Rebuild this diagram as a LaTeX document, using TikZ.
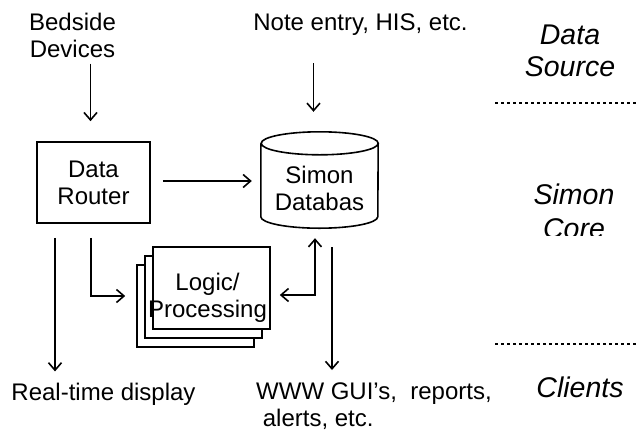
\documentclass[tikz,border=0pt]{standalone}
\usepackage{fontspec}
\setmainfont{Liberation Sans}
\usetikzlibrary{arrows.meta,calc}

\tikzset{
  txt/.style={inner sep=0pt, align=center, font=\fontsize{24}{27}\selectfont},
  layer/.style={inner sep=0pt, align=center, font=\fontsize{28.5}{32}\selectfont\itshape},
  box/.style={draw, line width=1.6pt, fill=white, inner sep=0pt},
  tip/.style={Straight Barb[length=7.5pt,width=13pt,line width=1.6pt]},
  arr/.style={line width=1.6pt, -{Straight Barb[length=7.5pt,width=13pt,line width=1.6pt]}},
  biarr/.style={line width=1.6pt, {Straight Barb[length=7.5pt,width=13pt,line width=1.6pt]}-{Straight Barb[length=7.5pt,width=13pt,line width=1.6pt]}},
  sep/.style={line width=2.6pt, dash pattern=on 2.6pt off 3.4pt},
}

\begin{document}
\begin{tikzpicture}[x=1pt, y=-1pt]
\useasboundingbox (0,0) rectangle (637,437);

% data sources
\node[txt, anchor=north] (bedside) at (72.5,12.5) {Bedside\\Devices};
\node[txt, anchor=base] (note) at (360.5,30) {Note entry, HIS, etc.};

% data router
\node[box, txt, minimum width=113pt, minimum height=81pt] (router) at (93.5,182.5) {Data\\Router};

% Simon database cylinder
\node[minimum width=117pt, minimum height=96pt, inner sep=0pt] (db) at (319.5,180) {};
\draw[line width=1.6pt, fill=white]
  ($(db.north west)+(0,11.5)$) -- ($(db.south west)+(0,-11.5)$)
  arc[start angle=180, end angle=360, x radius=58.5pt, y radius=11.5pt]
  -- ($(db.north east)+(0,11.5)$)
  arc[start angle=0, end angle=360, x radius=58.5pt, y radius=11.5pt];
\node[txt] (dbtext) at ($(db.center)+(0,8)$) {Simon\\Databas};

% stacked logic / processing boxes
\node[box, minimum width=117pt, minimum height=82pt] (logicback) at (195.5,306) {};
\node[box, minimum width=117pt, minimum height=82pt] (logicmid) at (203.5,297) {};
\node[box, minimum width=117pt, minimum height=82pt] (logic) at (211.5,288) {};
\node[txt, anchor=north] (logictext) at (207.5,272.5) {Logic/\\Processing};

% clients
\node[txt, anchor=base] (realtime) at (103.5,400) {Real-time display};
\node[txt, align=left, anchor=north west] (www) at (256,383) {WWW GUI’s,~ reports,\\\hspace{6.7pt}alerts, etc.};

% layer labels and separators
\node[layer, anchor=north] (lsource) at (570,24.6) {Data\\Source};
\begin{scope}
  \clip (490,150) rectangle (637,235);
  \node[layer, anchor=north, font=\fontsize{28.5}{34}\selectfont\itshape] (lcore) at (574,183.6) {Simon\\Core};
\end{scope}
\node[layer, anchor=base] (lclients) at (580,397) {Clients};
\coordinate (sepA) at (495,103);
\coordinate (sepB) at (495,344);
\draw[sep] (sepA) -- (sepA -| 637,0);
\draw[sep] (sepB) -- (sepB -| 637,0);

% connectors
\draw[arr, shorten <=6pt, shorten >=20pt] (bedside.south -| 90.5,0) -- (router.north -| 90.5,0);
\draw[arr, shorten <=28pt, shorten >=20pt] (note.south -| 313.5,0) -- (db.north -| 313.5,0);
\draw[arr] ($(router.east)+(12,-1.5)$) -- ($(db.west)+(-9,1)$);
\draw[arr] ($(router.south)+(-2.5,14)$) |- ($(logic.west)+(-27,8)$);
\draw[arr, shorten <=14pt, shorten >=11pt] (router.south -| 55,0) -- (realtime.north -| 55,0);
\draw[biarr] ($(logic.east)+(9,7)$) -| ($(db.south)+(-4.5,10)$);
\draw[arr, shorten <=19pt, shorten >=13pt] (db.south -| 332,0) -- (www.north -| 332,0);
\end{tikzpicture}
\end{document}
